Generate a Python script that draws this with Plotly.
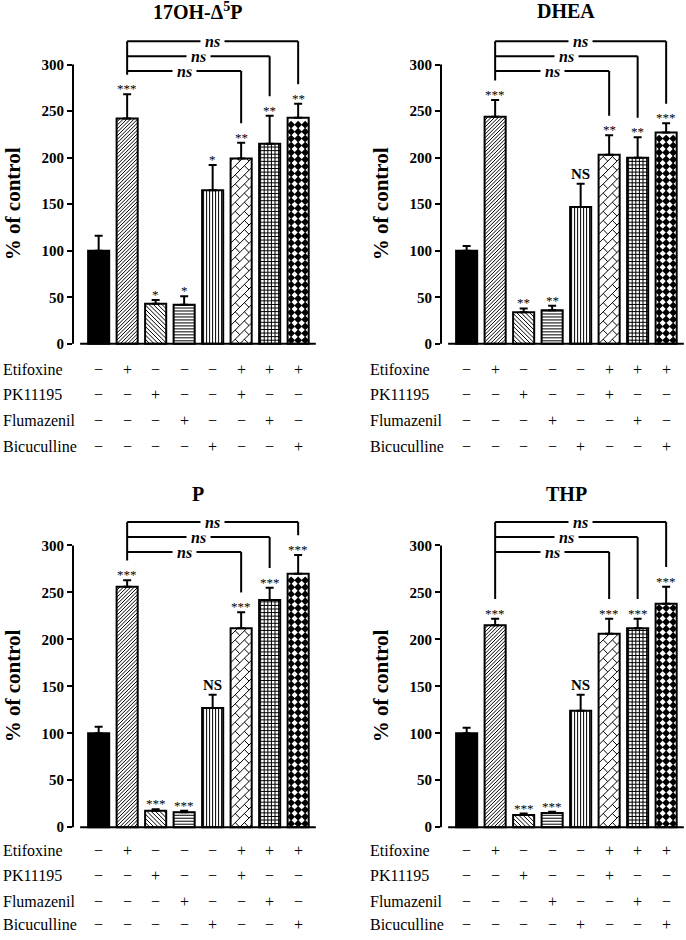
import math
import plotly.graph_objects as go

W, H = 686, 940

# ---------------- data ----------------
row_labels = ['Etifoxine', 'PK11195', 'Flumazenil', 'Bicuculline']
etifoxine = ['−', '+', '−', '−', '−', '+', '+', '+']
pk11195 = ['−', '−', '+', '−', '−', '+', '−', '−']
flumazenil = ['−', '−', '−', '+', '−', '−', '+', '−']
bicuculline = ['−', '−', '−', '−', '+', '−', '−', '+']
table_rows = [etifoxine, pk11195, flumazenil, bicuculline]

titles = ['17OH-Δ<sup>5</sup>P', 'DHEA', 'P', 'THP']

oh_mean = [100, 242, 43, 42, 165, 199, 215, 243]
oh_err = [16, 26, 4, 9, 27, 17, 30, 15]
oh_sig = ['', '***', '*', '*', '*', '**', '**', '**']

dhea_mean = [100, 244, 34, 36, 147, 203, 200, 227]
dhea_err = [5, 18, 4, 5, 25, 21, 22, 10]
dhea_sig = ['', '***', '**', '**', 'NS', '**', '**', '***']

p_mean = [100, 256, 17.5, 16, 127, 212, 242, 270]
p_err = [7, 7, 1.5, 1.5, 14, 17, 13, 20]
p_sig = ['', '***', '***', '***', 'NS', '***', '***', '***']

thp_mean = [100, 215, 13, 15, 124, 206, 212, 238]
thp_err = [6, 7, 1.5, 1.5, 17, 16, 10, 18]
thp_sig = ['', '***', '***', '***', 'NS', '***', '***', '***']

means = [oh_mean, dhea_mean, p_mean, thp_mean]
errs = [oh_err, dhea_err, p_err, thp_err]
sigs = [oh_sig, dhea_sig, p_sig, thp_sig]

# comparisons: reference bar 1 vs bars 5, 6, 7 -> "ns"
comp_ref = 1
comp_targets = [5, 6, 7]
comp_levels = [293, 309, 325]
comp_label = 'ns'

yticks = [0, 50, 100, 150, 200, 250, 300]

# ---------------- styling ----------------
fill_kinds = ['solid', 'fwd', 'back', 'hor', 'ver', 'brick', 'grid', 'dots']
bar_colors = ['black'] + ['white'] * 7
BW = 0.74

SERIF = 'Liberation Serif'

col_left_px = [73, 441]
row_zero_px = [346, 832.5]
row_scale = [281 / 300, 283.5 / 300]
row_table_px = [[372, 397, 423, 449], [856, 881, 907, 930]]
row_title_px = [11, 497]
step = 28.5
xr = [-0.9, 7.65]
yr = [-2, 340]


def clip(p0, p1, w, h):
    x0, y0 = p0
    x1, y1 = p1
    dx, dy = x1 - x0, y1 - y0
    t0, t1 = 0.0, 1.0
    for p, q in ((-dx, x0), (dx, w - x0), (-dy, y0), (dy, h - y0)):
        if abs(p) < 1e-12:
            if q < 0:
                return None
        else:
            t = q / p
            if p < 0:
                if t > t1:
                    return None
                t0 = max(t0, t)
            else:
                if t < t0:
                    return None
                t1 = min(t1, t)
    if t1 - t0 < 1e-9:
        return None
    return (x0 + t0 * dx, y0 + t0 * dy), (x0 + t1 * dx, y0 + t1 * dy)


def raw_segments(kind, w, h):
    B = w + h + 10
    out = []
    if kind == 'fwd':
        d = 3.6
        c = -h
        while c < w:
            out.append(((c - B, -B), (c + B, B)))
            c += d
    elif kind == 'back':
        d = 4.3
        c = 0.5
        while c < w + h:
            out.append(((c - B, B), (c + B, -B)))
            c += d
    elif kind in ('hor', 'grid'):
        d = 3.0 if kind == 'hor' else 3.6
        y = d
        while y < h:
            out.append(((0, y), (w, y)))
            y += d
    if kind in ('ver', 'grid'):
        d = 3.0 if kind == 'ver' else 3.6
        x = d / 2 if kind == 'ver' else 1.5
        while x < w:
            out.append(((x, 0), (x, h)))
            x += d
    if kind == 'brick':
        r2 = math.sqrt(2)
        e1 = (1 / r2, 1 / r2)
        e2 = (-1 / r2, 1 / r2)
        D, L = 6.5, 13.0
        vmin, vmax = -w / r2, h / r2
        umin, umax = 0, (w + h) / r2
        k = math.floor(vmin / D) - 1
        while k * D <= vmax + D:
            v = k * D
            pa = (umin - 5) * e1[0] + v * e2[0], (umin - 5) * e1[1] + v * e2[1]
            pb = (umax + 5) * e1[0] + v * e2[0], (umax + 5) * e1[1] + v * e2[1]
            out.append((pa, pb))
            u = umin - L + (k % 2) * L / 2
            while u < umax + L:
                qa = u * e1[0] + v * e2[0], u * e1[1] + v * e2[1]
                qb = u * e1[0] + (v + D) * e2[0], u * e1[1] + (v + D) * e2[1]
                out.append((qa, qb))
                u += L
            k += 1
    return out


fig = go.Figure()
shapes = []
annotations = []
layout_axes = {}

for k in range(4):
    r, c = divmod(k, 2)
    n = '' if k == 0 else str(k + 1)
    xa, ya = 'x' + n, 'y' + n
    left = col_left_px[c]
    right = left + (xr[1] - xr[0]) * step
    z = row_zero_px[r]
    s = row_scale[r]
    bottom_px = z - yr[0] * s
    top_px = z - yr[1] * s
    layout_axes['xaxis' + n] = dict(
        domain=[left / W, right / W], range=xr, showgrid=False, zeroline=False,
        showline=False, showticklabels=False, ticks='', anchor=ya, fixedrange=True)
    layout_axes['yaxis' + n] = dict(
        domain=[1 - bottom_px / H, 1 - top_px / H], range=yr, tickvals=yticks,
        ticks='outside', ticklen=5, tickwidth=2, tickcolor='black',
        showgrid=False, zeroline=False, showline=False, anchor=xa, fixedrange=True,
        tickfont=dict(family=SERIF, size=15, color='black', weight='bold'))

    m, e = means[k], errs[k]
    fig.add_trace(go.Bar(
        x=list(range(8)), y=m, width=BW, xaxis=xa, yaxis=ya, showlegend=False,
        marker=dict(color=bar_colors, line=dict(color='black', width=2)),
        error_y=dict(type='data', symmetric=False, array=e, arrayminus=[0] * 8,
                     thickness=2, width=4, color='black')))

    # hatch fills, generated in pixel space of each bar and mapped through the axes
    sx, sy = step, s
    hx, hy, dx_, dy_ = [], [], [], []
    for i, kind in enumerate(fill_kinds):
        wpx = BW * sx
        hpx = m[i] * sy
        x0d = i - BW / 2
        if kind == 'dots':
            cols = [wpx / 6, wpx / 2, 5 * wpx / 6]
            yp = 3.5
            while yp < hpx - 2:
                for cx in cols:
                    dx_.append(x0d + cx / sx)
                    dy_.append(yp / sy)
                yp += 7.0
            continue
        if kind == 'solid':
            continue
        for seg in raw_segments(kind, wpx, hpx):
            cl = clip(seg[0], seg[1], wpx, hpx)
            if cl is None:
                continue
            (ax_, ay_), (bx_, by_) = cl
            hx += [x0d + ax_ / sx, x0d + bx_ / sx, None]
            hy += [ay_ / sy, by_ / sy, None]
    fig.add_trace(go.Scatter(x=hx, y=hy, mode='lines', xaxis=xa, yaxis=ya, showlegend=False,
                             line=dict(color='black', width=1), hoverinfo='skip'))
    fig.add_trace(go.Scatter(x=dx_, y=dy_, mode='markers', xaxis=xa, yaxis=ya, showlegend=False,
                             marker=dict(symbol='diamond', size=6, color='black'),
                             hoverinfo='skip'))

    # axis lines
    shapes.append(dict(type='line', xref=xa + ' domain', yref=ya, x0=0, x1=0, y0=0, y1=300,
                       line=dict(color='black', width=2)))
    shapes.append(dict(type='line', xref=xa, yref=ya, x0=-0.65, x1=7.62, y0=0, y1=0,
                       line=dict(color='black', width=2)))

    # significance marks
    for i in range(8):
        if not sigs[k][i]:
            continue
        top = m[i] + e[i]
        if sigs[k][i] == 'NS':
            annotations.append(dict(xref=xa, yref=ya, x=i, y=top, text='NS', showarrow=False,
                                    yanchor='bottom', yshift=0,
                                    font=dict(family=SERIF, size=15, color='black', weight='bold')))
        else:
            annotations.append(dict(xref=xa, yref=ya, x=i, y=top, text=sigs[k][i], showarrow=False,
                                    yanchor='bottom', yshift=-4,
                                    font=dict(family=SERIF, size=13, color='black')))

    # brackets
    ref_top = m[comp_ref] + e[comp_ref] + 21
    shapes.append(dict(type='line', xref=xa, yref=ya, x0=comp_ref, x1=comp_ref,
                       y0=max(comp_levels), y1=ref_top, line=dict(color='black', width=2)))
    for t, lev in zip(comp_targets, comp_levels):
        shapes.append(dict(type='line', xref=xa, yref=ya, x0=comp_ref, x1=t, y0=lev, y1=lev,
                           line=dict(color='black', width=2)))
        shapes.append(dict(type='line', xref=xa, yref=ya, x0=t, x1=t, y0=lev,
                           y1=m[t] + e[t] + 21, line=dict(color='black', width=2)))
        annotations.append(dict(xref=xa, yref=ya, x=(comp_ref + t) / 2, y=lev, text=comp_label,
                                showarrow=False, bgcolor='white', borderpad=4,
                                font=dict(family=SERIF, size=16, color='black',
                                          weight='bold', style='italic')))

    # title
    annotations.append(dict(xref=xa, yref='paper', x=3.5, y=1 - row_title_px[r] / H,
                            text=titles[k], showarrow=False, yanchor='middle',
                            font=dict(family=SERIF, size=20, color='black', weight='bold')))
    # y title
    annotations.append(dict(xref='paper', yref=ya, x=(left - 60) / W, y=150,
                            text='% of control', textangle=-90, showarrow=False,
                            xanchor='center', yanchor='middle',
                            font=dict(family=SERIF, size=21, color='black', weight='bold')))
    # treatment table
    label_x = 2 if c == 0 else 369
    for j, (lab, vals) in enumerate(zip(row_labels, table_rows)):
        ypx = row_table_px[r][j]
        annotations.append(dict(xref='paper', yref='paper', x=label_x / W, y=1 - ypx / H,
                                text=lab, showarrow=False, xanchor='left', yanchor='middle',
                                borderpad=0,
                                font=dict(family=SERIF, size=16, color='black')))
        for i, v in enumerate(vals):
            annotations.append(dict(xref=xa, yref='paper', x=i, y=1 - ypx / H, text=v,
                                    showarrow=False, xanchor='center', yanchor='middle',
                                    borderpad=0,
                                    font=dict(family=SERIF, size=16, color='black')))

fig.update_layout(width=W, height=H, margin=dict(l=0, r=0, t=0, b=0),
                  paper_bgcolor='white', plot_bgcolor='white', bargap=0,
                  shapes=shapes, annotations=annotations, **layout_axes)

page_css = ("html,body{margin:0!important;padding:0!important;width:686px;height:940px;"
            "overflow:hidden!important;} body>div{height:940px;overflow:hidden;line-height:0;}")
post = ("var st=document.createElement('style');st.innerHTML='" + page_css + "';"
        "document.head.appendChild(st);window.scrollTo(0,0);")

fig.write_html('out.html',
               config={'displayModeBar': False, 'staticPlot': True},
               post_script=post)
